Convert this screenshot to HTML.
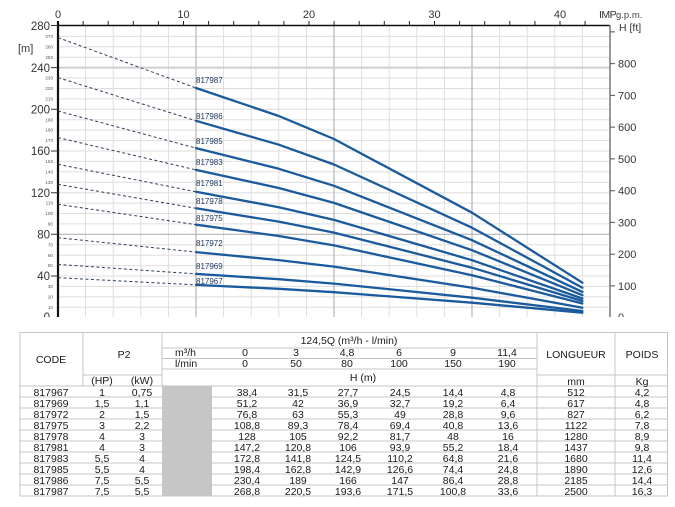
<!DOCTYPE html>
<html><head><meta charset="utf-8"><style>
html,body{margin:0;padding:0;background:#fff;}
svg{display:block;}
text{font-family:"Liberation Sans",sans-serif;}
</style></head><body>
<svg width="675" height="507" viewBox="0 0 675 507" xmlns="http://www.w3.org/2000/svg">
<rect width="675" height="507" fill="#fff"/>
<defs><clipPath id="c"><rect x="0" y="0" width="675" height="317"/></clipPath></defs>
<g clip-path="url(#c)">
<!-- minor grid -->
<path fill="none" stroke="#dedede" stroke-width="1" d="M85.6 25V317M113.2 25V317M140.8 25V317M168.4 25V317M223.6 25V317M251.2 25V317M278.8 25V317M306.4 25V317M361.6 25V317M389.2 25V317M416.8 25V317M444.4 25V317M499.6 25V317M527.2 25V317M554.8 25V317M582.4 25V317
M58 307.3H610M58 296.9H610M58 286.4H610M58 276H610M58 265.6H610M58 255.2H610M58 244.8H610M58 223.9H610M58 213.5H610M58 203.1H610M58 192.7H610M58 182.2H610M58 171.8H610M58 161.4H610M58 151H610M58 140.6H610M58 130.1H610M58 119.7H610M58 109.3H610M58 98.9H610M58 88.5H610M58 78H610M58 57.2H610M58 46.8H610M58 36.4H610"/>
<path fill="none" stroke="#b4b4b4" stroke-width="1.2" d="M196 25V317M334 25V317M472 25V317M58 234.3H610"/>
<path fill="none" stroke="#cfcfcf" stroke-width="2" d="M58 67.6H610"/>
<!-- axes -->
<path fill="none" stroke="#111" stroke-width="1.6" d="M57 25.5H610"/>
<path fill="none" stroke="#111" stroke-width="2.2" d="M58 21V317"/>
<path fill="none" stroke="#777" stroke-width="1.5" d="M610 25V317"/>
<!-- top ticks -->
<path fill="none" stroke="#222" stroke-width="1" d="M83.1 21V25M108.2 21V25M133.3 21V25M158.4 21V25M183.5 21V25M208.6 21V25M233.7 21V25M258.8 21V25M283.9 21V25M309 21V25M334.1 21V25M359.2 21V25M384.3 21V25M409.4 21V25M434.5 21V25M459.6 21V25M484.7 21V25M509.8 21V25M534.9 21V25M560 21V25M585.1 21V25"/>
<!-- left major ticks -->
<path fill="none" stroke="#333" stroke-width="1" d="M51 25.5H58M51 67.6H58M51 109.3H58M51 151H58M51 192.7H58M51 234.3H58M51 276H58"/>
<!-- right ticks -->
<path fill="none" stroke="#555" stroke-width="1" d="M610 31.9H615M610 63.6H615M610 95.4H615M610 127.1H615M610 158.9H615M610 190.7H615M610 222.4H615M610 254.2H615M610 285.9H615"/>
<!-- left labels -->
<g font-size="11.5" fill="#333" text-anchor="end">
<text x="50" y="30">280</text><text x="50" y="72">240</text><text x="50" y="113.5">200</text><text x="50" y="155">160</text><text x="50" y="197">120</text><text x="50" y="238.5">80</text><text x="50" y="280">40</text><text x="50" y="321">0</text>
</g>
<g font-size="4.6" fill="#555" text-anchor="end">
<text x="53" y="38">270</text><text x="53" y="48.4">260</text><text x="53" y="58.8">250</text><text x="53" y="79.6">230</text><text x="53" y="90">220</text><text x="53" y="100.5">210</text><text x="53" y="121.3">190</text><text x="53" y="131.7">180</text><text x="53" y="142.2">170</text><text x="53" y="163">150</text><text x="53" y="173.4">140</text><text x="53" y="183.8">130</text><text x="53" y="204.7">110</text><text x="53" y="215.1">100</text><text x="53" y="225.5">90</text><text x="53" y="246.4">70</text><text x="53" y="256.8">60</text><text x="53" y="267.2">50</text><text x="53" y="288">30</text><text x="53" y="298.5">20</text><text x="53" y="308.9">10</text>
</g>
<!-- right labels -->
<g font-size="11" fill="#333">
<text x="618" y="67.6">800</text><text x="618" y="99.4">700</text><text x="618" y="131.1">600</text><text x="618" y="162.9">500</text><text x="618" y="194.7">400</text><text x="618" y="226.4">300</text><text x="618" y="258.2">200</text><text x="618" y="289.9">100</text><text x="618" y="321">0</text>
</g>
<!-- dashed -->
<g fill="none" stroke="#2d3f5c" stroke-width="1" stroke-dasharray="3 2.5">
<path d="M58 277.7L196 284.9"/><path d="M58 264.4L196 273.9"/><path d="M58 237.7L196 252.1"/><path d="M58 204.3L196 224.7"/><path d="M58 184.3L196 208.3"/><path d="M58 164.3L196 191.8"/><path d="M58 137.6L196 169.9"/><path d="M58 111L196 148.1"/><path d="M58 77.6L196 120.8"/><path d="M58 37.6L196 88"/>
</g>
<!-- curves -->
<g fill="none" stroke="#1b5a9c" stroke-width="2.3" stroke-linejoin="round" stroke-linecap="round">
<polyline points="196,284.9 278.8,288.8 334,292.2 472,302.7 582.4,312.7"/>
<polyline points="196,273.9 278.8,279.2 334,283.6 472,297.7 582.4,311"/>
<polyline points="196,252.1 278.8,260.1 334,266.6 472,287.7 582.4,307.7"/>
<polyline points="196,224.7 278.8,236 334,245.4 472,275.2 582.4,303.5"/>
<polyline points="196,208.3 278.8,221.6 334,232.6 472,267.7 582.4,301"/>
<polyline points="196,191.8 278.8,207.2 334,219.9 472,260.2 582.4,298.5"/>
<polyline points="196,169.9 278.8,188 334,202.9 472,250.2 582.4,295.2"/>
<polyline points="196,148.1 278.8,168.8 334,185.8 472,240.2 582.4,291.9"/>
<polyline points="196,120.8 278.8,144.7 334,164.5 472,227.7 582.4,287.7"/>
<polyline points="196,88 278.8,116 334,139 472,212.7 582.4,282.7"/>
</g>
<!-- curve labels -->
<g font-size="8" fill="#1f3a60">
<text x="196" y="83">817987</text><text x="196" y="119">817986</text><text x="196" y="144">817985</text><text x="196" y="165">817983</text><text x="196" y="186">817981</text><text x="196" y="204">817978</text><text x="196" y="221">817975</text><text x="196" y="246">817972</text><text x="196" y="269">817969</text><text x="196" y="284">817967</text>
</g>
</g>
<!-- top labels -->
<g font-size="11" fill="#333" text-anchor="middle">
<text x="58" y="18">0</text><text x="183.5" y="18">10</text><text x="309" y="18">20</text><text x="434.5" y="18">30</text><text x="560" y="18">40</text>
</g>
<text x="599" y="18" font-size="10.5" fill="#333" letter-spacing="-0.5">IMP</text>
<text x="616" y="18" font-size="9.5" fill="#444">g.p.m.</text>
<text x="619" y="31" font-size="10.5" fill="#333">H [ft]</text>
<text x="18" y="52" font-size="11" fill="#333">[m]</text>

<!-- TABLE -->
<rect x="162" y="386" width="50" height="110" fill="#c6c6c6"/>
<g fill="none" stroke="#c4c4c4" stroke-width="1">
<path d="M20 332.5H668M20 332V496.5M667.5 332V496.5M20 496H668M83 332V386M162 332V386M537 332V496.5M615 332V496.5
M162 348H537M162 358.5H537M162 369H537M83 375H162M537 375H668M20 386H668
M20 397H668M20 408H668M20 419H668M20 430H668M20 441H668M20 452H668M20 463H668M20 474H668M20 485H668"/>
</g>
<g font-size="10.5" fill="#1a1a1a" text-anchor="middle">
<text x="51" y="363">CODE</text>
<text x="124" y="358">P2</text>
<text x="102" y="384">(HP)</text><text x="142" y="384">(kW)</text>
<text x="349" y="344">124,5Q (m³/h - l/min)</text>
<text x="363" y="381">H (m)</text>
<text x="576" y="358">LONGUEUR</text><text x="642" y="358">POIDS</text>
<text x="576" y="385">mm</text><text x="642" y="385">Kg</text>
<text x="245" y="356">0</text><text x="296" y="356">3</text><text x="347" y="356">4,8</text><text x="399" y="356">6</text><text x="453" y="356">9</text><text x="507" y="356">11,4</text>
<text x="245" y="367">0</text><text x="296" y="367">50</text><text x="347" y="367">80</text><text x="399" y="367">100</text><text x="453" y="367">150</text><text x="507" y="367">190</text>
</g>
<g font-size="10.5" fill="#1a1a1a">
<text x="175" y="356">m³/h</text><text x="175" y="367">l/min</text>
</g>
<g font-size="10.5" fill="#1a1a1a" text-anchor="middle">
<g transform="translate(0,396)">
<text x="51">817967</text><text x="102">1</text><text x="142">0,75</text><text x="247">38,4</text><text x="298">31,5</text><text x="348">27,7</text><text x="400">24,5</text><text x="453">14,4</text><text x="508">4,8</text><text x="576">512</text><text x="642">4,2</text>
</g>
<g transform="translate(0,407)">
<text x="51">817969</text><text x="102">1,5</text><text x="142">1,1</text><text x="247">51,2</text><text x="298">42</text><text x="348">36,9</text><text x="400">32,7</text><text x="453">19,2</text><text x="508">6,4</text><text x="576">617</text><text x="642">4,8</text>
</g>
<g transform="translate(0,418)">
<text x="51">817972</text><text x="102">2</text><text x="142">1,5</text><text x="247">76,8</text><text x="298">63</text><text x="348">55,3</text><text x="400">49</text><text x="453">28,8</text><text x="508">9,6</text><text x="576">827</text><text x="642">6,2</text>
</g>
<g transform="translate(0,429)">
<text x="51">817975</text><text x="102">3</text><text x="142">2,2</text><text x="247">108,8</text><text x="298">89,3</text><text x="348">78,4</text><text x="400">69,4</text><text x="453">40,8</text><text x="508">13,6</text><text x="576">1122</text><text x="642">7,8</text>
</g>
<g transform="translate(0,440)">
<text x="51">817978</text><text x="102">4</text><text x="142">3</text><text x="247">128</text><text x="298">105</text><text x="348">92,2</text><text x="400">81,7</text><text x="453">48</text><text x="508">16</text><text x="576">1280</text><text x="642">8,9</text>
</g>
<g transform="translate(0,451)">
<text x="51">817981</text><text x="102">4</text><text x="142">3</text><text x="247">147,2</text><text x="298">120,8</text><text x="348">106</text><text x="400">93,9</text><text x="453">55,2</text><text x="508">18,4</text><text x="576">1437</text><text x="642">9,8</text>
</g>
<g transform="translate(0,462)">
<text x="51">817983</text><text x="102">5,5</text><text x="142">4</text><text x="247">172,8</text><text x="298">141,8</text><text x="348">124,5</text><text x="400">110,2</text><text x="453">64,8</text><text x="508">21,6</text><text x="576">1680</text><text x="642">11,4</text>
</g>
<g transform="translate(0,473)">
<text x="51">817985</text><text x="102">5,5</text><text x="142">4</text><text x="247">198,4</text><text x="298">162,8</text><text x="348">142,9</text><text x="400">126,6</text><text x="453">74,4</text><text x="508">24,8</text><text x="576">1890</text><text x="642">12,6</text>
</g>
<g transform="translate(0,484)">
<text x="51">817986</text><text x="102">7,5</text><text x="142">5,5</text><text x="247">230,4</text><text x="298">189</text><text x="348">166</text><text x="400">147</text><text x="453">86,4</text><text x="508">28,8</text><text x="576">2185</text><text x="642">14,4</text>
</g>
<g transform="translate(0,495)">
<text x="51">817987</text><text x="102">7,5</text><text x="142">5,5</text><text x="247">268,8</text><text x="298">220,5</text><text x="348">193,6</text><text x="400">171,5</text><text x="453">100,8</text><text x="508">33,6</text><text x="576">2500</text><text x="642">16,3</text>
</g>
</g>
</svg>
</body></html>
